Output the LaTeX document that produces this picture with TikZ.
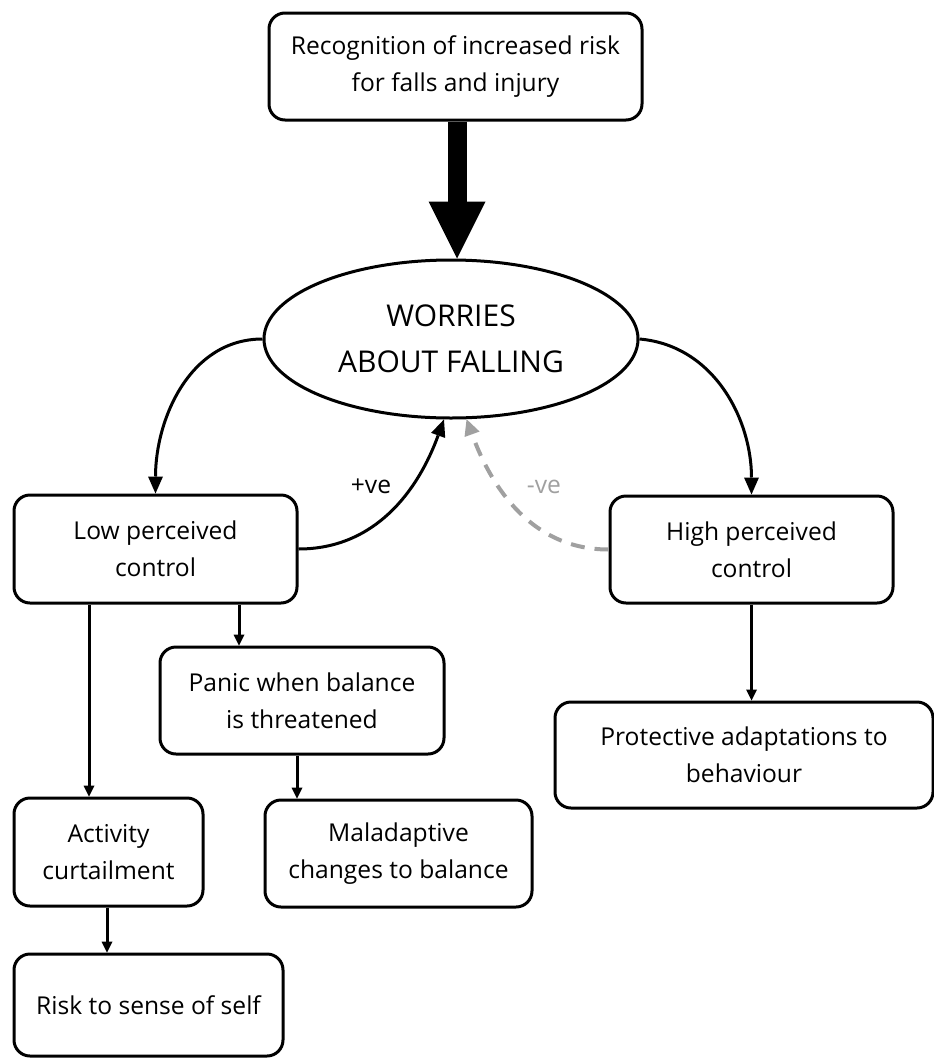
\documentclass[tikz,border=0pt]{standalone}
\usepackage{fontspec}
\setmainfont{Open Sans}
\usetikzlibrary{arrows.meta,shapes.geometric}
\definecolor{negcol}{RGB}{160,160,160}
\begin{document}
\begin{tikzpicture}[x=1pt,y=1pt,
  box/.style={draw, line width=3pt, rounded corners=16pt, align=center, inner sep=0pt,
    font=\fontsize{24.6}{37}\selectfont},
  bigell/.style={draw, ellipse, line width=3pt, align=center, inner sep=0pt,
    font=\fontsize{30}{46}\selectfont},
  lbl/.style={inner sep=0pt, font=\fontsize{24.6}{30}\selectfont},
  arr/.style={line width=3pt, -{Triangle[width=15pt,length=17pt,line width=0pt]}},
  sarr/.style={line width=3pt, -{Triangle[width=11pt,length=11pt,line width=0pt]}},
  negarr/.style={line width=4pt, negcol, dash pattern=on 14pt off 10pt,
    -{Triangle[width=16pt,length=16pt,line width=0pt]}},
  bigarr/.style={line width=19pt, -{Triangle[width=57pt,length=57pt,line width=0pt]}}
]
\useasboundingbox (0,0) rectangle (934,-1058);

\node[box, minimum width=373pt, minimum height=107pt] (top) at (455.5,-66.5)
  {Recognition of increased risk\\for falls and injury};
\node[bigell, minimum width=374pt, minimum height=158pt] (ell) at (451,-339)
  {WORRIES\\ABOUT FALLING};
\node[box, minimum width=283pt, minimum height=108pt] (low) at (155.5,-549)
  {Low perceived\\control};
\node[box, minimum width=283pt, minimum height=107pt] (high) at (751.5,-549.5)
  {High perceived\\control};
\node[box, minimum width=284pt, minimum height=107pt] (panic) at (302,-700.5)
  {Panic when balance\\is threatened};
\node[box, minimum width=189pt, minimum height=108pt] (act) at (108.5,-852)
  {Activity\\curtailment};
\node[box, minimum width=267pt, minimum height=107pt] (mal) at (398.5,-853.5)
  {Maladaptive\\changes to balance};
\node[box, minimum width=378pt, minimum height=106pt] (prot) at (744,-755)
  {Protective adaptations to\\behaviour};
\node[box, minimum width=269pt, minimum height=102pt] (risk) at (148.5,-1005)
  {Risk to sense of self};

\node[lbl] (plus) at (371,-486) {+ve};
\node[lbl, text=negcol] (minus) at (544,-487) {-ve};

\coordinate (tx) at (457,0);
\coordinate (xa) at (89,0);
\coordinate (xb) at (239,0);
\coordinate (xc) at (297,0);
\coordinate (xd) at (107,0);

\draw[bigarr] (top.south -| tx) -- (ell.north -| tx);
\draw[arr] (ell.west) to[out=180,in=90] (low.north);
\draw[arr] (ell.east) to[out=-5,in=90] (high.north);
\draw[arr] (low.east) to[out=0,in=-110] (ell.265);
\draw[negarr] (high.west) to[out=180,in=-70] (ell.281);

\draw[sarr] (low.south -| xa) -- (act.north -| xa);
\draw[sarr] (low.south -| xb) -- (panic.north -| xb);
\draw[sarr] (panic.south -| xc) -- (mal.north -| xc);
\draw[sarr] (act.south -| xd) -- (risk.north -| xd);
\draw[sarr] (high.south) -- (prot.north -| high.south);
\end{tikzpicture}
\end{document}
